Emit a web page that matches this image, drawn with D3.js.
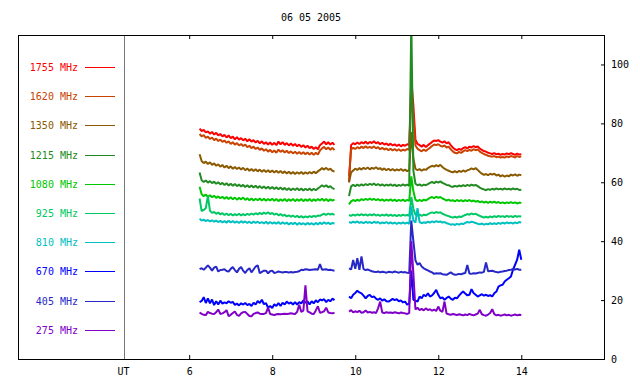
<!DOCTYPE html>
<html>
<head>
<meta charset="utf-8">
<script src="https://cdn.jsdelivr.net/npm/d3@7"></script>
<style>
body { margin: 0; background: #fff; }
text { font-family: "DejaVu Sans Mono", monospace; font-size: 10px; }
</style>
</head>
<body>
<svg id="chart" width="640" height="384"></svg>
<script>
var title = "06 05 2005"
var hourTicks = [6, 8, 10, 12, 14]
var levelTicks = [0, 20, 40, 60, 80, 100]
var utHour = 4.44

// sample times (UT hours), two observing runs
var hoursA = [6.25,6.30,6.35,6.40,6.45,6.50,6.55,6.60,6.65,6.70,
    6.75,6.80,6.85,6.90,6.95,7.00,7.05,7.10,7.15,7.20,
    7.25,7.30,7.35,7.40,7.45,7.50,7.55,7.60,7.65,7.70,
    7.75,7.80,7.85,7.90,7.95,8.00,8.05,8.10,8.15,8.20,
    8.25,8.30,8.35,8.40,8.45,8.50,8.55,8.60,8.65,8.70,
    8.75,8.80,8.85,8.90,8.95,9.00,9.05,9.10,9.15,9.20,
    9.25,9.30,9.35,9.40,9.45,9.50]
var hoursB = [9.85,9.90,9.95,10.00,10.05,10.10,10.15,10.20,10.25,10.30,
    10.35,10.40,10.45,10.50,10.55,10.60,10.65,10.70,10.75,10.80,
    10.85,10.90,10.95,11.00,11.05,11.10,11.15,11.20,11.25,11.30,
    11.35,11.40,11.45,11.50,11.55,11.60,11.65,11.70,11.75,11.80,
    11.85,11.90,11.95,12.00,12.05,12.10,12.15,12.20,12.25,12.30,
    12.35,12.40,12.45,12.50,12.55,12.60,12.65,12.70,12.75,12.80,
    12.85,12.90,12.95,13.00,13.05,13.10,13.15,13.20,13.25,13.30,
    13.35,13.40,13.45,13.50,13.55,13.60,13.65,13.70,13.75,13.80,
    13.85,13.90,13.95,14.00]

var mhz1755a = [78.2,77.4,77.8,76.9,77.3,76.5,77.1,76.2,76.8,75.9,
    76.4,75.6,76.1,75.2,75.9,75.0,75.5,74.6,75.3,74.5,
    75.0,74.2,74.8,73.9,74.6,73.8,74.3,73.5,74.1,73.2,
    73.9,73.0,73.6,72.8,73.5,72.7,73.4,72.6,73.8,72.9,
    73.6,72.7,73.3,72.5,73.2,72.4,73.0,72.2,72.8,72.0,
    72.6,71.8,72.4,71.6,72.1,71.3,71.9,71.2,72.6,73.2,
    73.8,72.9,73.6,72.8,73.4,72.7]
var mhz1755b = [60.0,72.6,73.3,72.9,73.5,73.0,73.6,73.2,73.8,73.1,
    73.7,73.3,73.9,73.2,73.6,72.9,73.4,72.8,73.2,72.6,
    73.1,72.5,72.9,72.3,72.8,72.2,72.7,72.4,72.9,72.6,
    95.0,86.0,74.5,73.0,72.6,72.1,72.7,72.0,72.6,73.1,
    73.7,74.2,74.0,74.3,73.8,73.5,73.9,73.2,73.6,72.6,
    71.8,71.2,70.9,71.3,71.0,71.6,71.9,71.5,72.1,71.8,
    72.3,71.9,72.2,71.4,71.0,70.6,70.4,70.0,69.8,69.6,
    69.9,69.5,69.7,69.3,69.6,69.4,69.8,69.5,69.9,69.6,
    69.3,69.7,69.4,69.5]

var mhz1620a = [76.4,75.6,76.0,75.1,75.5,74.7,75.2,74.3,74.8,74.0,
    74.5,73.7,74.2,73.4,73.9,73.0,73.6,72.8,73.3,72.5,
    73.0,72.3,72.8,71.9,72.4,71.6,72.1,71.3,71.8,71.0,
    71.5,70.7,71.2,70.4,71.0,70.2,70.8,70.0,71.1,70.3,
    70.9,70.1,70.7,69.9,70.5,69.8,70.4,69.7,70.3,69.6,
    70.2,69.5,70.1,69.4,70.0,69.3,70.0,69.4,70.8,71.5,
    72.0,71.2,71.8,71.0,71.7,70.9]
var mhz1620b = [62.0,71.1,71.7,71.3,71.9,71.5,72.1,71.6,72.2,71.7,
    72.0,71.6,72.2,71.5,71.9,71.2,71.7,71.1,71.5,70.9,
    71.4,70.8,71.3,70.7,71.2,70.6,71.1,70.8,71.3,71.0,
    90.0,82.0,72.5,71.4,70.9,70.5,71.1,70.6,71.2,71.7,
    72.3,72.8,72.6,72.9,72.4,72.1,72.5,71.8,72.1,71.2,
    70.5,70.0,69.8,70.3,70.0,70.5,70.9,70.6,71.0,70.7,
    71.2,70.9,71.1,70.4,70.0,69.6,69.3,69.0,68.8,68.7,
    68.9,68.5,68.7,68.4,68.6,68.4,68.8,68.5,68.9,68.7,
    68.4,68.9,68.6,68.8]

var mhz1350a = [69.5,67.2,66.5,67.0,66.2,66.8,65.9,66.4,65.6,66.1,
    65.3,65.9,65.0,65.6,64.8,65.4,64.6,65.2,64.5,65.0,
    64.3,64.9,64.1,64.7,63.9,64.5,63.8,64.4,63.7,64.3,
    63.6,64.2,63.5,64.1,63.4,64.0,63.3,63.9,63.2,63.8,
    63.1,63.7,63.0,63.6,62.9,63.5,62.8,63.4,62.9,63.5,
    62.8,63.4,62.9,63.5,63.0,63.6,63.1,63.7,64.2,64.8,
    64.3,64.9,64.2,64.6,63.9,63.6]
var mhz1350b = [60.0,63.3,64.0,64.6,64.2,64.8,64.3,64.9,64.5,65.0,
    64.4,64.9,64.6,65.1,64.5,64.8,64.2,64.7,64.1,64.6,
    64.0,64.5,63.9,64.4,64.0,64.5,63.9,64.3,63.8,64.2,
    77.0,68.0,64.6,64.1,64.5,63.9,64.4,64.2,64.8,65.2,
    65.6,65.3,65.8,65.4,65.9,65.2,64.6,64.2,63.9,63.6,
    63.4,63.8,63.3,63.9,63.5,64.0,63.6,64.1,64.3,64.7,
    64.4,64.8,64.2,63.5,62.9,62.5,62.8,62.4,62.9,62.6,
    62.9,62.3,62.6,62.0,62.4,61.9,62.3,62.0,62.6,62.3,
    62.7,62.2,62.6,62.4]

var mhz1215a = [63.3,60.7,60.1,60.6,59.9,60.4,59.7,60.2,59.5,60.0,
    59.3,59.8,59.1,59.7,58.9,59.5,58.8,59.4,58.7,59.2,
    58.6,59.1,58.4,59.0,58.3,58.9,58.2,58.8,58.1,58.7,
    58.0,58.6,57.9,58.5,57.8,58.4,57.7,58.3,57.6,58.2,
    57.5,58.1,57.4,58.0,57.3,57.9,57.4,58.0,57.3,57.9,
    57.2,57.8,57.3,57.9,57.2,57.8,57.3,57.9,58.4,59.0,
    58.5,59.0,58.3,58.7,58.0,57.7]
var mhz1215b = [55.3,58.6,59.1,58.7,59.2,58.8,59.3,58.9,59.4,59.0,
    59.5,59.1,59.6,59.0,59.4,58.9,59.3,58.8,59.2,58.9,
    59.3,58.8,59.2,58.7,59.1,58.8,59.3,58.9,59.2,58.8,
    115.0,64.0,59.5,59.0,59.3,58.8,59.2,59.0,59.4,59.8,
    60.1,59.7,60.2,59.9,60.3,59.8,59.5,59.1,59.0,58.6,
    58.4,58.8,58.5,58.9,58.6,59.0,58.7,59.1,58.8,59.2,
    58.9,59.1,58.7,58.2,57.8,57.6,57.3,57.7,57.4,57.8,
    57.5,57.9,57.6,57.8,57.5,57.9,57.6,57.8,57.5,57.9,
    57.6,57.8,57.4,57.5]

var mhz1080a = [58.5,55.9,55.3,55.8,55.1,55.6,54.9,55.4,54.7,55.2,
    54.6,55.1,54.4,55.0,54.3,54.9,54.2,54.8,54.1,54.7,
    54.2,54.8,54.0,54.6,53.9,54.5,53.8,54.4,53.9,54.5,
    53.8,54.4,53.7,54.3,53.8,54.4,53.7,54.3,53.6,54.2,
    53.7,54.3,53.6,54.2,53.7,54.3,53.6,54.2,53.7,54.3,
    53.6,54.2,53.7,54.3,53.6,54.2,53.7,54.3,53.8,54.4,
    53.7,54.3,53.6,54.2,53.8,54.1]
var mhz1080b = [52.5,53.5,54.0,53.6,54.1,53.7,54.3,53.9,54.4,54.0,
    54.5,54.0,54.4,53.9,54.3,53.8,54.2,53.7,54.1,53.8,
    54.2,53.7,54.1,53.6,54.0,53.7,54.1,53.6,54.0,53.7,
    62.0,57.0,54.1,53.6,54.0,53.6,54.1,53.8,54.3,54.7,
    55.0,54.6,55.1,54.7,55.0,54.5,54.2,53.8,54.1,53.7,
    53.9,53.5,54.0,53.6,53.9,53.5,53.9,53.6,54.0,53.5,
    53.8,53.4,53.7,53.2,53.5,53.1,53.4,53.0,53.4,53.1,
    53.4,53.0,53.3,52.9,53.2,52.8,53.2,52.9,53.3,52.9,
    53.2,52.8,53.1,53.0]

var mhz925a = [54.5,50.2,50.6,51.2,55.3,50.4,49.6,49.9,49.3,49.7,
    49.1,49.5,48.9,49.4,48.8,49.3,48.7,49.2,48.8,49.3,
    48.7,49.2,48.8,49.3,48.9,49.4,49.0,49.5,49.1,49.6,
    49.2,49.7,49.3,49.8,49.2,49.6,49.0,49.4,48.8,49.2,
    48.6,49.0,48.4,48.8,48.3,48.7,48.2,48.6,48.1,48.5,
    48.0,48.4,48.1,48.5,48.2,48.6,48.3,48.7,48.6,49.0,
    49.3,48.9,49.4,49.0,49.3,48.9]
var mhz925b = [48.9,48.6,49.0,48.7,49.1,48.8,49.2,48.8,49.1,48.7,
    49.1,48.8,49.2,48.7,49.0,48.6,49.0,48.7,49.1,48.6,
    49.0,48.6,48.9,48.5,48.9,48.6,49.0,48.7,48.9,48.6,
    55.0,51.0,49.0,48.7,49.0,48.6,49.0,48.8,49.2,49.5,
    49.8,49.5,49.9,49.6,49.8,49.3,49.0,48.7,48.5,48.2,
    48.0,48.3,48.0,48.4,48.2,48.6,48.9,49.2,49.0,49.4,
    49.1,49.3,48.9,48.6,48.3,48.0,48.3,48.0,48.4,48.1,
    48.5,48.2,48.6,48.3,48.5,48.2,48.6,48.3,48.5,48.2,
    48.6,48.3,48.5,48.4]

var mhz810a = [47.6,47.0,47.3,46.8,47.2,46.7,47.1,46.6,47.0,46.5,
    46.9,46.4,46.8,46.3,46.9,46.4,46.8,46.3,46.7,46.2,
    46.8,46.3,46.7,46.2,46.6,46.1,46.7,46.2,46.6,46.1,
    46.5,46.0,46.6,45.9,46.5,46.0,46.4,45.9,46.5,45.8,
    46.4,45.9,46.3,45.7,46.2,45.8,46.3,45.6,46.2,45.7,
    46.1,45.6,46.2,45.7,46.1,45.6,46.2,45.7,46.3,45.8,
    46.4,45.9,46.3,45.8,46.2,46.0]
var mhz810b = [46.5,46.2,46.6,46.3,46.7,46.2,46.5,46.1,46.6,46.2,
    46.5,46.1,46.6,46.2,46.5,46.0,46.4,46.1,46.5,46.0,
    46.4,46.0,46.3,45.9,46.3,46.0,46.4,46.0,46.3,45.9,
    51.8,47.0,46.3,51.2,46.5,46.1,46.4,46.2,46.6,46.3,
    46.7,46.4,46.8,46.5,46.7,46.3,46.5,46.1,45.9,45.6,
    45.8,45.5,45.9,45.6,46.0,45.8,46.2,46.5,46.3,46.6,
    46.4,46.2,45.9,45.7,46.0,45.6,45.9,45.7,46.1,45.8,
    46.1,45.8,46.2,45.9,46.3,46.0,46.4,46.1,46.3,46.0,
    46.4,46.1,46.5,46.3]

var mhz670a = [19.3,19.7,21.0,19.0,20.6,18.9,20.2,18.3,19.6,18.5,
    19.8,18.8,19.2,18.9,19.6,19.1,19.4,18.4,18.8,18.2,
    18.9,18.5,19.0,18.3,18.7,18.0,19.1,18.5,19.7,19.0,
    20.1,18.6,19.0,17.4,18.0,17.3,18.6,18.0,19.0,18.0,
    19.1,18.5,19.5,18.8,19.2,18.5,19.3,18.5,19.3,18.9,
    19.9,19.1,19.6,18.5,19.6,18.9,19.9,19.3,20.2,19.9,
    20.3,19.3,20.1,19.6,20.5,20.0]
var mhz670b = [21.2,20.6,21.8,22.4,23.2,22.6,22.3,21.5,20.6,21.4,
    21.8,21.0,21.2,20.5,20.1,20.6,19.8,20.3,19.6,19.5,
    19.9,20.4,20.0,20.3,19.6,19.9,19.2,19.5,18.4,18.9,
    30.0,20.1,19.8,19.5,21.2,20.6,21.8,21.3,22.3,21.2,
    21.6,22.4,23.5,21.8,20.6,20.9,20.1,20.7,21.2,20.5,
    20.1,20.8,20.6,21.5,22.3,22.9,22.2,21.6,21.8,23.7,
    22.4,21.8,21.2,21.6,22.0,21.5,21.8,21.4,21.7,21.2,
    22.3,22.9,24.6,25.0,25.2,26.3,26.9,27.4,28.0,30.3,
    32.0,33.7,37.1,33.7]

var mhz405a = [30.5,30.8,30.3,31.0,31.8,31.0,30.0,31.0,31.4,29.7,
    30.2,30.3,30.5,29.9,29.7,30.6,31.2,30.2,29.4,30.6,
    31.2,30.0,29.2,30.2,30.8,29.4,30.4,31.4,31.8,29.1,
    29.6,30.0,30.0,29.1,29.8,30.0,29.2,29.4,29.7,29.5,
    29.4,29.5,29.5,29.4,29.5,29.4,29.5,29.6,29.8,30.3,
    30.2,30.5,30.4,30.2,30.3,30.4,30.5,30.3,32.2,30.3,
    30.4,30.5,30.2,30.3,30.1,30.0]
var mhz405b = [30.8,30.4,33.6,30.6,34.2,30.3,34.8,30.5,30.2,30.4,
    30.1,29.8,29.6,29.5,29.7,29.4,29.6,29.5,29.3,29.6,
    29.5,29.4,29.7,29.5,29.3,29.6,29.4,29.5,29.3,29.2,
    47.0,40.0,33.5,32.0,32.6,31.4,30.8,30.4,30.1,29.7,
    29.4,28.9,29.1,29.0,29.1,28.8,28.7,28.6,29.0,29.4,
    28.9,28.6,28.7,28.9,28.8,29.0,29.2,31.9,29.0,28.9,
    29.1,29.0,29.2,29.4,29.3,29.6,32.8,29.8,29.9,30.0,
    29.7,29.5,29.4,29.6,29.7,29.9,30.0,30.2,30.3,30.5,
    30.4,30.6,30.3,30.3]

var mhz275a = [15.8,15.3,15.0,14.9,16.0,15.6,15.4,15.3,15.9,16.8,
    15.3,15.5,15.9,16.6,14.5,15.0,15.6,16.1,15.0,14.6,
    15.5,15.9,16.0,15.3,14.6,14.5,15.3,15.6,15.8,15.4,
    15.3,15.3,15.6,17.5,15.3,15.1,14.9,15.2,15.3,15.2,
    15.3,15.4,15.3,15.4,15.5,15.4,15.3,16.0,18.4,16.0,
    16.4,25.0,16.2,15.8,15.4,15.3,16.5,17.9,15.7,15.9,
    16.2,17.4,15.8,15.6,15.5,15.7]
var mhz275b = [16.1,16.6,15.8,16.2,15.9,16.4,15.7,15.9,16.5,15.8,
    16.0,15.7,15.9,15.6,17.2,19.5,15.8,15.6,15.9,15.7,
    15.8,15.6,15.9,15.7,15.5,15.8,15.6,15.5,15.3,15.6,
    40.0,29.0,16.8,17.4,16.6,17.0,16.5,17.2,16.6,16.9,
    16.4,16.8,16.3,17.8,16.4,16.0,19.5,15.4,15.2,15.0,
    15.3,15.1,14.9,15.2,15.0,14.8,15.1,14.9,15.3,15.0,
    14.8,15.1,15.4,16.7,15.2,14.9,14.7,15.1,15.6,16.9,
    15.2,14.8,15.0,14.7,14.9,15.1,14.8,15.0,14.7,14.9,
    15.1,14.8,15.0,14.9]

var series = [
    {label: "1755 MHz", color: "#ff0000", a: mhz1755a, b: mhz1755b},
    {label: "1620 MHz", color: "#c84400", a: mhz1620a, b: mhz1620b},
    {label: "1350 MHz", color: "#8b5a00", a: mhz1350a, b: mhz1350b},
    {label: "1215 MHz", color: "#228b22", a: mhz1215a, b: mhz1215b},
    {label: "1080 MHz", color: "#00c800", a: mhz1080a, b: mhz1080b},
    {label: "925 MHz", color: "#00c864", a: mhz925a, b: mhz925b},
    {label: "810 MHz", color: "#00c0c0", a: mhz810a, b: mhz810b},
    {label: "670 MHz", color: "#0000ff", a: mhz670a, b: mhz670b},
    {label: "405 MHz", color: "#2828c8", a: mhz405a, b: mhz405b},
    {label: "275 MHz", color: "#8000c8", a: mhz275a, b: mhz275b}
]

var chart = function() {
    var pl = 18, pr = 604, pt = 35, pb = 359

    var svg = d3.select("#chart")
    var x = d3.scaleLinear().domain([6, 14]).range([189.2, 521.3])
    var y = d3.scaleLinear().domain([0, 110]).range([pb, pt])

    svg.append("text")
        .attr("x", (pl + pr) / 2)
        .attr("y", 21)
        .attr("text-anchor", "middle")
        .text(title)

    svg.append("clipPath").attr("id", "plotclip")
        .append("rect")
        .attr("x", pl).attr("y", pt)
        .attr("width", pr - pl).attr("height", pb - pt)

    // UT marker
    svg.append("line")
        .attr("x1", Math.round(x(utHour)) + 0.5).attr("x2", Math.round(x(utHour)) + 0.5)
        .attr("y1", pt).attr("y2", pb)
        .attr("stroke", "#777")
    svg.append("text")
        .attr("x", x(utHour) - 1)
        .attr("y", 375)
        .attr("text-anchor", "middle")
        .text("UT")

    var line = d3.line()
        .x(function(d) { return x(d[0]) })
        .y(function(d) { return y(d[1]) })

    var plot = svg.append("g").attr("clip-path", "url(#plotclip)")
    series.forEach(function(s) {
        [[hoursA, s.a], [hoursB, s.b]].forEach(function(seg) {
            plot.append("path")
                .datum(d3.zip(seg[0], seg[1]))
                .attr("d", line)
                .attr("fill", "none")
                .attr("stroke", s.color)
                .attr("stroke-width", 2)
                .attr("stroke-linejoin", "bevel")
        })
    })

    // legend
    series.forEach(function(s, i) {
        var ly = Math.round(67 + i * 29.2) + 0.5
        svg.append("text")
            .attr("x", 78).attr("y", ly)
            .attr("dy", "0.35em")
            .attr("text-anchor", "end")
            .attr("fill", s.color)
            .text(s.label)
        svg.append("line")
            .attr("x1", 85).attr("x2", 115)
            .attr("y1", ly).attr("y2", ly)
            .attr("stroke", s.color)
    })

    // axes, ticks pointing inward
    var xb = svg.append("g").attr("transform", "translate(0," + pb + ")")
        .call(d3.axisBottom(x).tickValues(hourTicks).tickSize(-4).tickPadding(9))
    var xt = svg.append("g").attr("transform", "translate(0," + pt + ")")
        .call(d3.axisTop(x).tickValues(hourTicks).tickSize(-4).tickFormat(""))
    var yr = svg.append("g").attr("transform", "translate(" + pr + ",0)")
        .call(d3.axisRight(y).tickValues(levelTicks).tickSize(-3).tickPadding(7))
    ;[xb, xt, yr].forEach(function(g) {
        g.attr("font-family", null).attr("font-size", null)
        g.select(".domain").remove()
        g.selectAll("text").attr("fill", "#000")
        g.selectAll("line").attr("stroke", "#000")
    })

    svg.append("rect")
        .attr("x", pl + 0.5).attr("y", pt + 0.5)
        .attr("width", pr - pl).attr("height", pb - pt)
        .attr("fill", "none")
        .attr("stroke", "#000")
}
chart()
</script>
</body>
</html>
